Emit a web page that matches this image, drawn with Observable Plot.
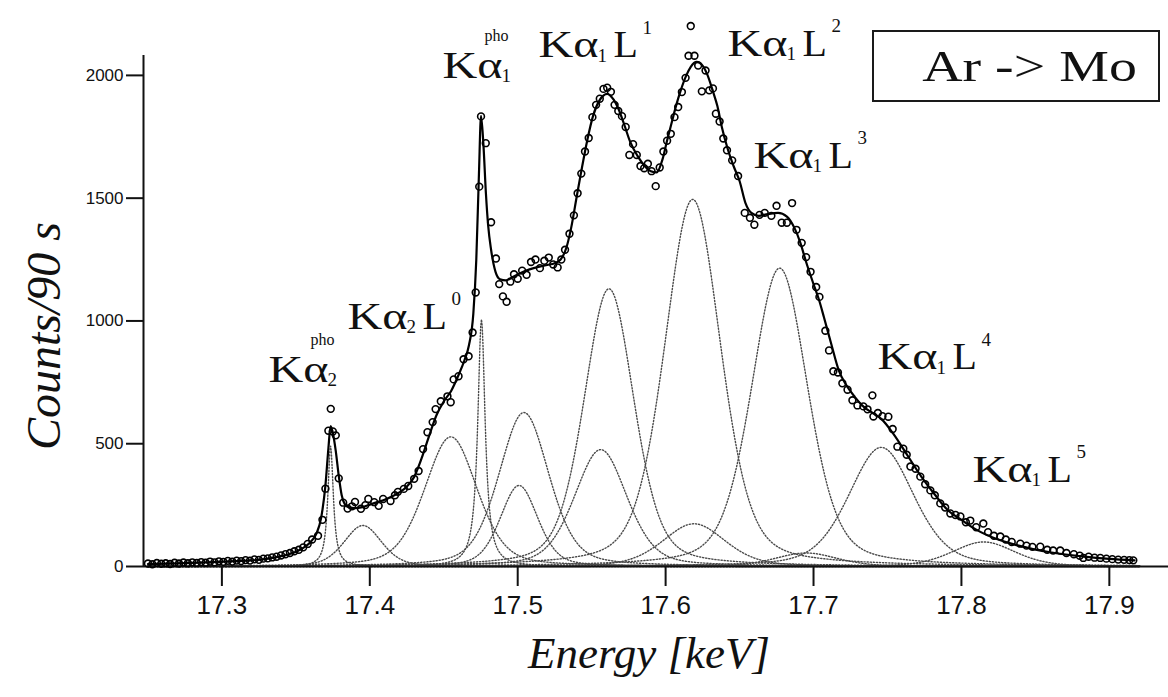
<!DOCTYPE html>
<html>
<head>
<meta charset="utf-8">
<script src="https://cdn.jsdelivr.net/npm/d3@7"></script>
<script src="https://cdn.jsdelivr.net/npm/@observablehq/plot@0.6"></script>
<style>
  body { margin: 0; background: #ffffff; }
  #wrap { position: relative; width: 1168px; height: 697px; }
  #chart svg { display: block; }
  #tag {
    position: absolute; left: 872px; top: 30px; width: 288px; height: 72px;
    border: 2px solid #1a1a1a; box-sizing: border-box; background: #fff;
    font-family: "Liberation Serif", "Times New Roman", serif; font-size: 44px; color: #111;
    display: flex; align-items: center; justify-content: center; padding-left: 28px;
  }
  #tag span { display: inline-block; transform: scaleX(1.27); }
</style>
</head>
<body>
<div id="wrap">
  <div id="chart"></div>
  <div id="tag"><span>Ar -&gt; Mo</span></div>
</div>
<script>
// ---------------- data ----------------
const xTicks = [17.3, 17.4, 17.5, 17.6, 17.7, 17.8, 17.9];
const yTicks = [0, 500, 1000, 1500, 2000];
const xDomain = [17.247, 17.940];
const yDomain = [0, 2081];

// measured spectrum [energy keV, counts / 90 s]
const observed = [
  [17.250,12],[17.253,9],[17.256,14],[17.259,11],[17.262,13],[17.265,10],[17.268,15],[17.271,12],[17.274,16],[17.277,13],
  [17.280,17],[17.283,14],[17.286,18],[17.289,15],[17.292,20],[17.295,17],[17.298,21],[17.301,19],[17.304,23],[17.307,20],
  [17.310,24],[17.313,22],[17.316,26],[17.319,24],[17.322,29],[17.325,27],[17.328,32],[17.331,33],[17.334,37],[17.337,40],
  [17.340,45],[17.343,50],[17.346,55],[17.349,62],[17.352,68],[17.355,78],[17.358,92],[17.361,110],[17.365,125],[17.368,190],
  [17.370,317],[17.372,553],[17.3736,642],[17.375,550],[17.377,534],[17.379,359],[17.382,260],[17.385,236],[17.388,245],[17.390,263],
  [17.394,235],[17.397,250],[17.399,275],[17.403,262],[17.406,247],[17.409,275],[17.414,267],[17.417,290],[17.419,304],[17.423,316],
  [17.426,328],[17.430,357],[17.433,389],[17.436,478],[17.439,547],[17.4425,588],[17.4445,641],[17.448,673],[17.4525,693],[17.4547,669],
  [17.4567,762],[17.460,775],[17.4634,844],[17.4668,856],[17.4695,953],[17.4716,1116],[17.474,1547],[17.4752,1833],[17.4784,1724],[17.482,1402],
  [17.4853,1254],[17.4875,1150],[17.490,1100],[17.4925,1078],[17.495,1160],[17.4975,1190],[17.500,1172],[17.503,1205],[17.506,1188],[17.509,1240],
  [17.512,1250],[17.515,1215],[17.518,1245],[17.521,1258],[17.524,1230],[17.527,1218],[17.5295,1250],[17.532,1290],[17.535,1355],[17.538,1430],
  [17.5405,1520],[17.543,1600],[17.5455,1690],[17.548,1745],[17.5505,1830],[17.553,1880],[17.5555,1905],[17.558,1945],[17.5605,1950],[17.563,1933],
  [17.5655,1880],[17.568,1855],[17.5705,1834],[17.573,1790],[17.5755,1676],[17.578,1720],[17.5805,1676],[17.583,1631],[17.5855,1622],[17.588,1640],
  [17.5905,1610],[17.5933,1549],[17.596,1625],[17.5985,1690],[17.601,1734],[17.6035,1762],[17.606,1830],[17.6085,1871],[17.611,1932],[17.6135,1990],
  [17.6155,2080],[17.617,2201],[17.6195,2080],[17.622,2040],[17.6245,1935],[17.627,2020],[17.6295,1939],[17.632,1947],[17.634,1844],[17.6365,1812],
  [17.639,1743],[17.6415,1695],[17.645,1654],[17.649,1590],[17.6535,1440],[17.657,1420],[17.660,1392],[17.6635,1432],[17.667,1440],[17.6715,1428],
  [17.675,1469],[17.6785,1400],[17.682,1400],[17.6855,1480],[17.6885,1371],[17.692,1318],[17.695,1260],[17.698,1200],[17.7018,1138],[17.704,1098],
  [17.708,960],[17.7105,880],[17.7134,795],[17.7165,790],[17.7195,746],[17.723,720],[17.7263,677],[17.7297,656],[17.7337,652],[17.7365,640],
  [17.7398,697],[17.7405,611],[17.7435,625],[17.7466,612],[17.7506,610],[17.7535,560],[17.7567,488],[17.7607,480],[17.763,455],[17.7655,407],
  [17.769,398],[17.7722,366],[17.7755,335],[17.779,310],[17.782,290],[17.7857,257],[17.789,240],[17.7925,216],[17.796,210],[17.7993,204],
  [17.803,180],[17.806,187],[17.810,160],[17.8148,175],[17.818,140],[17.822,125],[17.8263,122],[17.830,110],[17.834,100],[17.8398,93],
  [17.844,85],[17.848,80],[17.8533,81],[17.858,68],[17.862,65],[17.8668,65],[17.871,55],[17.876,50],[17.880,44],[17.8824,35],
  [17.886,40],[17.890,36],[17.8939,35],[17.898,32],[17.902,30],[17.906,28],[17.910,27],[17.9135,26],[17.9162,25]
];

// total fit curve [energy keV, counts]
const fitCurve = [
  [17.250,10],[17.270,13],[17.290,17],[17.310,22],[17.320,25],[17.330,31],[17.340,42],[17.350,60],[17.355,76],[17.360,100],
  [17.364,135],[17.367,195],[17.370,330],[17.372,480],[17.3735,572],[17.375,545],[17.377,470],[17.379,370],[17.381,290],[17.383,255],
  [17.386,240],[17.390,238],[17.395,242],[17.400,252],[17.405,262],[17.410,272],[17.415,285],[17.420,302],[17.425,325],[17.430,365],
  [17.435,440],[17.440,530],[17.445,615],[17.450,672],[17.455,715],[17.460,780],[17.464,840],[17.467,900],[17.470,1030],[17.472,1250],
  [17.4738,1600],[17.4752,1835],[17.4768,1720],[17.4785,1520],[17.480,1390],[17.482,1290],[17.485,1200],[17.488,1170],[17.492,1165],[17.497,1180],
  [17.502,1195],[17.508,1210],[17.514,1220],[17.520,1228],[17.525,1235],[17.529,1250],[17.533,1300],[17.536,1375],[17.540,1510],[17.543,1610],
  [17.547,1735],[17.551,1836],[17.5555,1900],[17.5605,1925],[17.565,1900],[17.568,1865],[17.572,1800],[17.576,1730],[17.581,1672],[17.586,1630],
  [17.590,1610],[17.594,1605],[17.598,1660],[17.601,1735],[17.604,1805],[17.607,1875],[17.610,1935],[17.614,2000],[17.617,2035],[17.621,2055],
  [17.625,2040],[17.628,2006],[17.632,1935],[17.635,1875],[17.638,1790],[17.642,1700],[17.646,1630],[17.650,1570],[17.654,1480],[17.658,1440],
  [17.663,1428],[17.669,1435],[17.676,1440],[17.682,1425],[17.687,1380],[17.691,1320],[17.695,1240],[17.700,1150],[17.704,1080],[17.707,1016],
  [17.712,906],[17.717,800],[17.722,740],[17.728,690],[17.734,650],[17.740,625],[17.746,600],[17.754,540],[17.764,448],[17.773,365],
  [17.782,293],[17.791,228],[17.800,190],[17.810,150],[17.822,116],[17.838,86],[17.861,57],[17.883,40],[17.900,31],[17.917,25]
];

// fitted line components (dotted): centre keV, height, FWHM keV, Lorentz fraction
const compCenter = [17.3735, 17.3953, 17.4548, 17.4755, 17.5009, 17.5042, 17.5561, 17.5617, 17.6192, 17.6183, 17.6771, 17.695, 17.7458, 17.815];
const compHeight = [490, 167, 528, 1006, 330, 627, 476, 1131, 174, 1495, 1215, 55, 485, 100];
const compWidth  = [0.0045, 0.030, 0.042, 0.006, 0.030, 0.040, 0.042, 0.040, 0.050, 0.045, 0.045, 0.050, 0.052, 0.050];
const compEta    = [1, 0.35, 0.35, 1, 0.35, 0.35, 0.35, 0.35, 0.35, 0.35, 0.35, 0.35, 0.35, 0.35];

// line labels: anchor energy, anchor counts, subscript, "L" part, superscript
const labelEnergy = [17.3315, 17.3849, 17.4492, 17.5141, 17.6418, 17.6594, 17.7432, 17.8075];
const labelCounts = [800, 1016, 2038, 2122, 2128, 1672, 851, 393];
const labelSub    = ["2", "2", "1", "1", "1", "1", "1", "1"];
const labelL      = ["", "L", "", "L", "L", "L", "L", "L"];
const labelSup    = ["pho", "0", "pho", "1", "2", "3", "4", "5"];

const xTitle = "Energy [keV]";
const yTitle = "Counts/90 s";

// ---------------- build ----------------
const serif = "'Liberation Serif', 'Times New Roman', serif";
const sans = "'Liberation Sans', Arial, Helvetica, sans-serif";

const obs = observed.map(([e, c]) => ({e, c}));
const fit = fitCurve.map(([e, c]) => ({e, c}));
const grid = d3.range(17.25, 17.9205, 0.0005);
const comps = [];
compCenter.forEach((c0, k) => {
  grid.forEach(e => {
    const u = 2 * (e - c0) / compWidth[k];
    const G = Math.exp(-Math.LN2 * u * u);
    const L = 1 / (1 + u * u);
    comps.push({k, e, c: compHeight[k] * (compEta[k] * L + (1 - compEta[k]) * G)});
  });
});
const lbl = labelEnergy.map((e, i) => ({e, c: labelCounts[i], sub: labelSub[i], L: labelL[i], sup: labelSup[i]}));

const chart = Plot.plot({
  width: 1168,
  height: 697,
  marginLeft: 143,
  marginRight: 0,
  marginTop: 55,
  marginBottom: 131,
  style: {background: "#ffffff", fontFamily: sans, color: "#111"},
  x: {domain: xDomain, axis: null},
  y: {domain: yDomain, axis: null},
  marks: [
    Plot.line(comps, {x: "e", y: "c", z: "k", stroke: "#4a4a4a", strokeWidth: 1.4, strokeDasharray: "1.2,1.9"}),
    Plot.ruleY([0], {stroke: "#111", strokeWidth: 2}),
    Plot.ruleX([xDomain[0]], {stroke: "#111", strokeWidth: 2}),
    Plot.axisX({ticks: xTicks, tickSize: 20, tickPadding: 9, fontSize: 26, tickFormat: d => d.toFixed(1), label: null, strokeWidth: 2}),
    Plot.axisY({ticks: yTicks, tickSize: 17, tickPadding: 3, fontSize: 17, tickFormat: d => String(d), label: null, strokeWidth: 2}),
    Plot.line(fit, {x: "e", y: "c", stroke: "#000", strokeWidth: 2.2, curve: "monotone-x"}),
    Plot.dot(obs, {x: "e", y: "c", r: 3.4, stroke: "#000", strokeWidth: 1.6, fill: "none"}),
    // labels
    Plot.text(lbl, {x: "e", y: "c", text: d => "Kα", textAnchor: "start", lineAnchor: "middle", fontSize: 37, fontFamily: serif, fill: "#111"}),
    Plot.text(lbl.filter(d => d.L), {x: "e", y: "c", text: "L", dx: 75, textAnchor: "start", lineAnchor: "middle", fontSize: 37, fontFamily: serif, fill: "#111"}),
    Plot.text(lbl, {x: "e", y: "c", text: "sub", dx: 59, dy: 10, textAnchor: "start", lineAnchor: "middle", fontSize: 19, fontFamily: serif, fill: "#111"}),
    Plot.text(lbl.filter(d => d.sup !== "pho"), {x: "e", y: "c", text: "sup", dx: 104, dy: -18, textAnchor: "start", lineAnchor: "middle", fontSize: 19, fontFamily: serif, fill: "#111"}),
    Plot.text(lbl.filter(d => d.sup === "pho"), {x: "e", y: "c", text: "sup", dx: 42, dy: -30, textAnchor: "start", lineAnchor: "middle", fontSize: 16, fontFamily: serif, fill: "#111"}),
    // axis titles
    Plot.text([xTitle], {frameAnchor: "bottom", text: d => d, dx: -7, dy: 87, textAnchor: "middle", lineAnchor: "middle", fontSize: 45, fontStyle: "italic", fontFamily: serif, fill: "#111"}),
    Plot.text([yTitle], {frameAnchor: "left", text: d => d, rotate: -90, dx: -99, dy: 25, textAnchor: "middle", lineAnchor: "middle", fontSize: 48, fontStyle: "italic", fontFamily: serif, fill: "#111"})
  ]
});

// widen the big serif label glyphs (the scanned original is horizontally stretched)
function stretch(t, s) {
  const tr = t.getAttribute("transform");
  if (tr) {
    t.setAttribute("transform", tr + ` scale(${s},1)`);
  } else {
    const x = +(t.getAttribute("x") || 0), y = +(t.getAttribute("y") || 0);
    t.setAttribute("transform", `translate(${x},${y}) scale(${s},1) translate(${-x},${-y})`);
  }
}
chart.querySelectorAll("text").forEach(t => {
  if (t.textContent === "Kα") stretch(t, 1.3);
  else if (t.textContent === "L") stretch(t, 1.08);
});

document.getElementById("chart").appendChild(chart);
</script>
</body>
</html>
